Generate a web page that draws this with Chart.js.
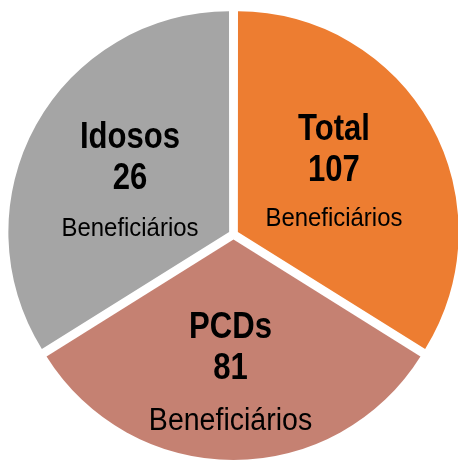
<!DOCTYPE html>
<html>
<head>
<meta charset="utf-8">
<script src="https://cdn.jsdelivr.net/npm/chart.js@4"></script>
<style>
  html, body { margin: 0; padding: 0; background: #ffffff; }
  #wrap { width: 458px; height: 462px; }
</style>
</head>
<body>
<div id="wrap"><canvas id="c" width="458" height="462"></canvas></div>
<script>
// ---- data ----
const categories = ['Total', 'PCDs', 'Idosos'];
const beneficiaries = [107, 81, 26];          // numbers printed in the slices
const sliceShares = [122, 116, 122];          // slice angles (degrees) as measured in the picture
const unitLabel = 'Beneficiários';
const sliceColors = ['#ED7D31', '#C58172', '#A5A5A5'];

// label placement (fraction of radius along each slice's middle) and unit font size
const labelRadiusFraction = [0.52, 0.59, 0.51];
const labelShift = [[-4, -6], [-3, 0], [-1, 1]];
const unitFontSize = [26, 31, 26];
const unitGap = [45, 51, 47];

const sliceLabels = {
  id: 'sliceLabels',
  afterDatasetsDraw(chart) {
    const ctx = chart.ctx;
    const meta = chart.getDatasetMeta(0);
    meta.data.forEach((arc, i) => {
      const p = arc.getProps(['x', 'y', 'startAngle', 'endAngle', 'outerRadius'], true);
      const mid = (p.startAngle + p.endAngle) / 2;
      const off = (arc.options.offset || 0) / 4;
      const r = p.outerRadius * labelRadiusFraction[i] + off;
      const cx = p.x + Math.cos(mid) * r + labelShift[i][0];
      const cy = p.y + Math.sin(mid) * r + labelShift[i][1];
      ctx.save();
      ctx.fillStyle = '#000000';
      ctx.textAlign = 'center';
      ctx.textBaseline = 'alphabetic';
      const drawScaled = (text, font, sx, x, y) => {
        ctx.save();
        ctx.font = font;
        ctx.translate(x, y);
        ctx.scale(sx, 1);
        ctx.fillText(text, 0, 0);
        ctx.restore();
      };
      const bold = 'bold 37px "Liberation Sans", Arial, sans-serif';
      drawScaled(categories[i], bold, 0.84, cx, cy - 31);
      drawScaled(String(beneficiaries[i]), bold, 0.84, cx, cy + 10);
      drawScaled(unitLabel, unitFontSize[i] + 'px "Liberation Sans", Arial, sans-serif', 0.92, cx, cy + 10 + unitGap[i]);
      ctx.restore();
    });
  }
};

new Chart(document.getElementById('c'), {
  type: 'pie',
  data: {
    labels: categories,
    datasets: [{
      data: sliceShares,
      backgroundColor: sliceColors,
      borderWidth: 0,
      offset: 20,
      radius: 220
    }]
  },
  options: {
    responsive: false,
    animation: false,
    events: [],
    layout: { padding: { left: 11, right: 2, top: 12, bottom: 5 } },
    plugins: {
      legend: { display: false },
      tooltip: { enabled: false },
      title: { display: false }
    }
  },
  plugins: [sliceLabels]
});
</script>
</body>
</html>
